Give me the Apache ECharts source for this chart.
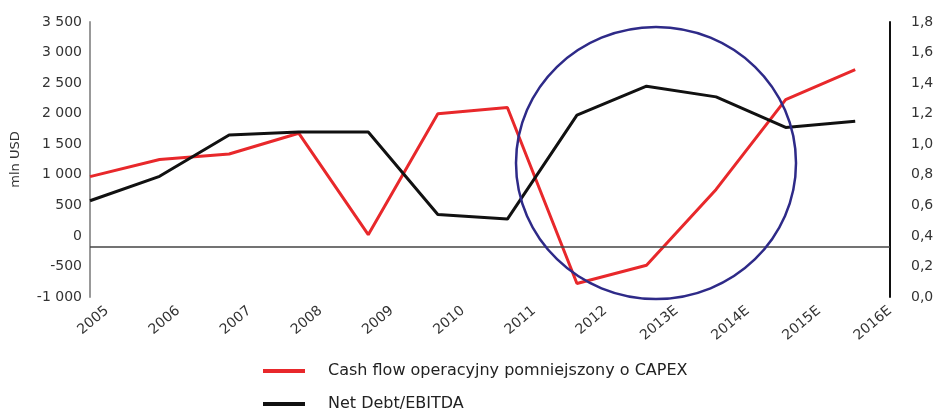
<!DOCTYPE html>
<html>
<head>
<meta charset="utf-8">
<script src="https://cdn.jsdelivr.net/npm/echarts@6/dist/echarts.min.js"></script>
<style>
  html, body { margin: 0; padding: 0; background: #fff; }
  #chart { width: 938px; height: 410px; }
</style>
</head>
<body>
<div id="chart"></div>
<script>
// kategorie i dane
const years = ['2005', '2006', '2007', '2008', '2009', '2010', '2011', '2012', '2013E', '2014E', '2015E', '2016E'];
const cashFlow = [970, 1250, 1340, 1680, 20, 2000, 2100, -780, -480, 760, 2230, 2720];
const netDebtEbitda = [0.63, 0.79, 1.06, 1.08, 1.08, 0.54, 0.51, 1.19, 1.38, 1.31, 1.11, 1.15];
const baseLine = -170; // pozioma linia odniesienia (oś lewa)

const cashName = 'Cash flow operacyjny pomniejszony o CAPEX';
const debtName = 'Net Debt/EBITDA';
const font = 'DejaVu Sans';

function fmtLeft(v) {
  const s = Math.abs(v).toString().replace(/\B(?=(\d{3})+(?!\d))/g, ' ');
  return (v < 0 ? '-' : '') + s;
}
function fmtRight(v) {
  return v.toFixed(1).replace('.', ',');
}

// wspólny styl legendy
function legendAt(top, name) {
  return {
    left: 258, top: top,
    itemWidth: 42, itemHeight: 4,
    icon: 'rect',
    textStyle: { fontSize: 16, color: '#222', fontFamily: font, padding: [0, 0, 0, 18] },
    data: [name]
  };
}

const chart = echarts.init(document.getElementById('chart'));
const option = {
  animation: false,
  backgroundColor: '#fff',
  textStyle: { fontFamily: font },
  grid: [
    { left: 90, right: 48, top: 22, bottom: 113 },
    { left: 107, right: 48, top: 22, bottom: 113 }
  ],
  xAxis: [
    {
      type: 'value', gridIndex: 0, min: 0, max: 11.5,
      show: false
    },
    {
      // tylko etykiety lat
      type: 'category', gridIndex: 1, data: years, boundaryGap: false,
      axisLine: { show: false },
      axisTick: { show: false },
      splitLine: { show: false },
      axisLabel: {
        interval: 0, rotate: 40, margin: 12,
        fontSize: 14, color: '#333', fontFamily: font
      }
    }
  ],
  yAxis: [
    {
      type: 'value', gridIndex: 0, min: -1000, max: 3500, interval: 500,
      name: 'mln USD', nameLocation: 'middle', nameGap: 68, nameRotate: 90,
      nameTextStyle: { fontSize: 13, color: '#333', fontFamily: font },
      axisLine: { show: true, lineStyle: { color: '#999', width: 2 } },
      axisTick: { show: false },
      splitLine: { show: false },
      axisLabel: { formatter: fmtLeft, fontSize: 14, color: '#333', margin: 8, fontFamily: font }
    },
    {
      type: 'value', gridIndex: 0, position: 'right', min: 0, max: 1.8, interval: 0.2,
      axisLine: { show: true, lineStyle: { color: '#111', width: 2 } },
      axisTick: { show: false },
      splitLine: { show: false },
      axisLabel: { formatter: fmtRight, fontSize: 14, color: '#333', margin: 21, fontFamily: font }
    },
    {
      type: 'value', gridIndex: 1, show: false
    }
  ],
  legend: [legendAt(358, cashName), legendAt(391, debtName)],
  series: [
    {
      name: cashName,
      type: 'line', xAxisIndex: 0, yAxisIndex: 0,
      data: cashFlow.map((v, i) => [i, v]),
      symbol: 'none',
      lineStyle: { color: '#e8282b', width: 3 },
      itemStyle: { color: '#e8282b' },
      z: 3,
      markLine: {
        silent: true, symbol: 'none',
        label: { show: false },
        lineStyle: { color: '#444', width: 1.5, type: 'solid' },
        data: [{ yAxis: baseLine }]
      }
    },
    {
      name: debtName,
      type: 'line', xAxisIndex: 0, yAxisIndex: 1,
      data: netDebtEbitda.map((v, i) => [i, v]),
      symbol: 'none',
      lineStyle: { color: '#111', width: 3 },
      itemStyle: { color: '#111' },
      z: 4
    }
  ],
  graphic: [
    {
      type: 'ellipse',
      shape: { cx: 656, cy: 163, rx: 140, ry: 136 },
      style: { fill: 'none', stroke: '#2e2a88', lineWidth: 2.5 },
      z: 10
    }
  ]
};
chart.setOption(option);
</script>
</body>
</html>
